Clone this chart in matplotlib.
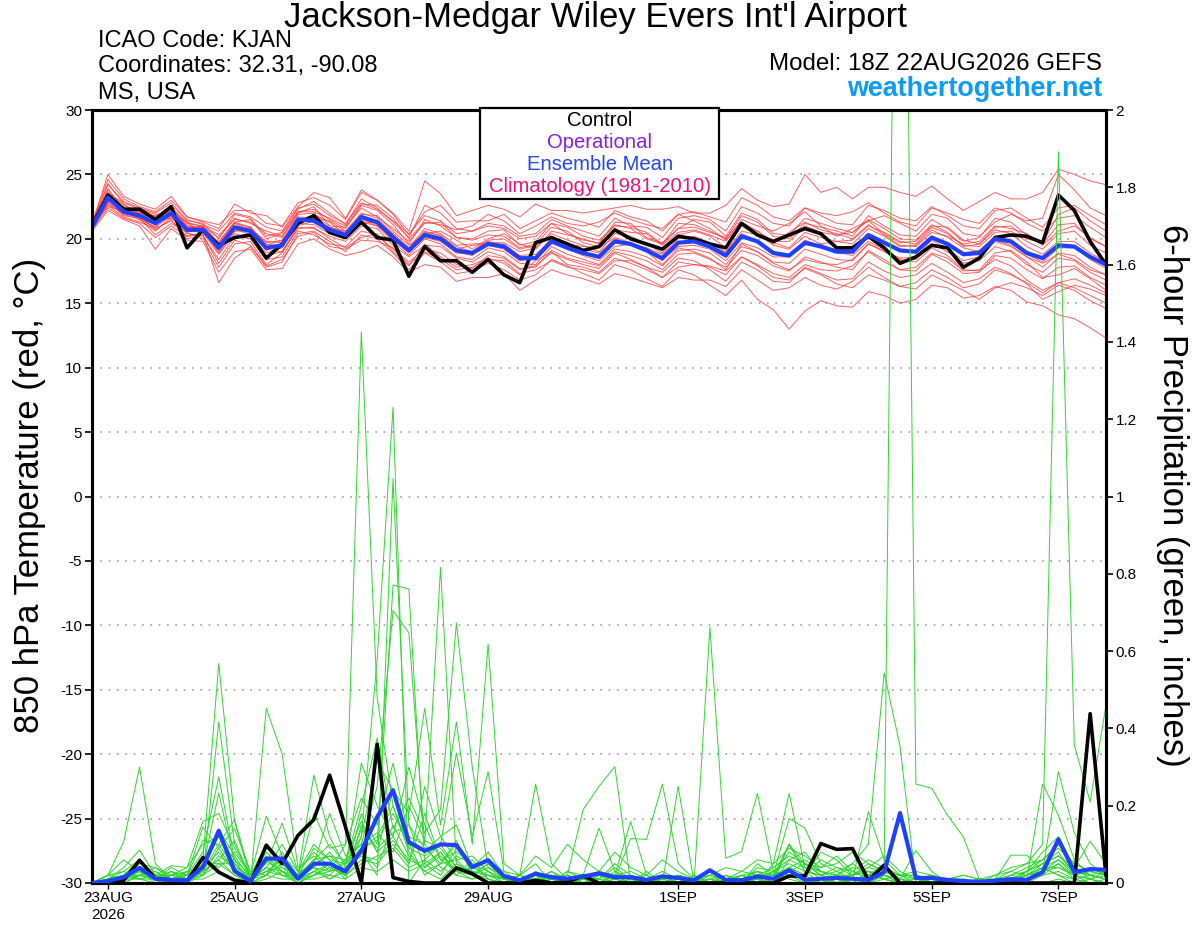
import numpy as np
import pandas as pd
import matplotlib
matplotlib.use('Agg')
import matplotlib.pyplot as plt
from matplotlib.patches import Rectangle

plt.rcParams['font.family'] = ['Liberation Sans', 'DejaVu Sans']
plt.rcParams['axes.unicode_minus'] = False

# ------------------------------------------------------------
# Data (6-hourly steps from 18Z 22AUG2026, 65 steps)
# ------------------------------------------------------------
RUN_START = '2026-08-22 18:00'
N_STEPS = 65

TICK_DATES = ['2026-08-23', '2026-08-25', '2026-08-27', '2026-08-29',
              '2026-09-01', '2026-09-03', '2026-09-05', '2026-09-07']
TICK_LABELS = ['23AUG\n2026', '25AUG', '27AUG', '29AUG',
               '1SEP', '3SEP', '5SEP', '7SEP']
TEMP_TICKS = [-30, -25, -20, -15, -10, -5, 0, 5, 10, 15, 20, 25, 30]
PRECIP_TICKS = [0, 0.2, 0.4, 0.6, 0.8, 1.0, 1.2, 1.4, 1.6, 1.8, 2.0]

# 850 hPa temperature, control and ensemble mean
temp_control = [21.0, 23.4, 22.3, 22.3, 21.5, 22.5, 19.3, 20.7, 19.5, 20.1, 20.3, 18.5, 19.6,
                21.2, 21.8, 20.5, 20.1, 21.3, 20.1, 19.9, 17.1, 19.4, 18.3, 18.3, 17.4, 18.4,
                17.2, 16.6, 19.7, 20.1, 19.6, 19.1, 19.4, 20.7, 20.0, 19.6, 19.2, 20.2, 20.0,
                19.6, 19.3, 21.2, 20.3, 19.8, 20.3, 20.8, 20.4, 19.3, 19.3, 20.2, 19.3, 18.1,
                18.6, 19.5, 19.3, 17.8, 18.5, 20.1, 20.3, 20.2, 19.7, 23.4, 22.2, 19.8, 18.0]
temp_mean = [20.9, 23.2, 22.1, 21.8, 21.2, 22.0, 20.7, 20.7, 19.3, 20.9, 20.6, 19.3, 19.5,
             21.5, 21.4, 20.7, 20.3, 21.7, 21.3, 20.1, 19.1, 20.3, 20.0, 19.1, 18.9, 19.6,
             19.4, 18.5, 18.5, 19.8, 19.3, 18.9, 18.6, 19.8, 19.6, 19.1, 18.5, 19.7, 19.8,
             19.4, 18.7, 20.2, 19.8, 18.9, 18.7, 19.7, 19.4, 19.0, 19.0, 20.3, 19.7, 19.1,
             19.0, 20.1, 19.6, 18.8, 18.9, 20.0, 19.8, 18.9, 18.5, 19.5, 19.4, 18.6, 18.0]

# 850 hPa temperature, ensemble members
t01 = [21.1, 25.0, 23.3, 22.7, 22.3, 23.3, 21.7, 21.3, 20.8, 22.7, 22.0, 21.8, 20.9,
       22.5, 23.6, 23.2, 21.6, 23.8, 23.0, 22.0, 20.6, 24.5, 23.5, 21.8, 22.2, 22.6,
       22.3, 21.7, 22.7, 22.2, 22.2, 22.0, 22.2, 22.4, 22.6, 22.3, 22.3, 22.5, 22.0,
       22.0, 22.6, 23.9, 23.0, 22.5, 22.7, 25.0, 23.6, 24.0, 23.1, 24.0, 24.0, 23.6,
       23.3, 24.1, 23.1, 22.2, 22.9, 23.6, 23.1, 23.1, 23.6, 25.4, 25.0, 24.5, 24.2]
t02 = [20.7, 22.4, 21.6, 21.2, 20.1, 21.0, 20.2, 20.4, 16.6, 18.5, 19.4, 17.8, 18.2,
       20.4, 20.6, 19.8, 19.0, 20.3, 20.0, 18.9, 17.6, 18.9, 18.2, 17.3, 17.5, 18.1,
       17.6, 16.8, 17.2, 18.4, 17.9, 17.3, 16.8, 18.0, 17.6, 16.9, 16.3, 17.6, 17.2,
       16.4, 15.6, 16.8, 15.3, 14.5, 13.0, 14.4, 15.2, 14.8, 14.7, 15.9, 15.6, 15.0,
       15.3, 16.4, 16.2, 15.4, 15.6, 16.3, 16.0, 15.1, 14.8, 14.1, 13.8, 13.1, 12.3]
t03 = [21.0, 23.6, 22.6, 22.0, 21.8, 22.3, 21.2, 21.0, 20.3, 21.5, 21.3, 20.4, 20.1,
       22.1, 22.3, 21.5, 20.8, 22.6, 22.2, 21.1, 19.6, 21.5, 21.0, 20.1, 20.0, 20.6,
       20.7, 19.5, 19.8, 21.2, 20.4, 19.9, 19.7, 21.1, 20.8, 20.0, 19.6, 21.2, 21.1,
       20.6, 20.0, 21.8, 21.3, 20.2, 20.0, 21.2, 20.9, 20.6, 20.2, 21.8, 21.0, 20.3,
       20.2, 21.5, 20.8, 19.8, 20.1, 21.6, 21.3, 20.3, 19.6, 21.1, 21.2, 20.0, 19.4]
t04 = [20.8, 22.8, 21.9, 21.5, 20.6, 21.7, 20.4, 20.2, 18.4, 20.2, 20.0, 18.7, 19.0,
       20.9, 20.8, 20.2, 19.8, 21.0, 20.8, 19.5, 18.6, 19.5, 19.4, 18.5, 18.2, 19.0,
       18.6, 17.7, 17.8, 19.1, 18.5, 18.2, 17.9, 19.0, 18.7, 18.3, 17.6, 18.8, 18.9,
       18.4, 17.8, 19.1, 18.7, 17.9, 17.5, 18.6, 18.2, 17.8, 17.6, 19.1, 18.4, 17.6,
       17.5, 18.8, 18.2, 17.3, 17.4, 18.7, 18.5, 17.6, 16.9, 17.8, 17.9, 17.0, 16.4]
t05 = [21.2, 24.2, 22.9, 22.4, 22.0, 22.8, 21.4, 21.2, 20.0, 21.9, 21.6, 20.2, 20.5,
       22.3, 22.9, 22.0, 21.1, 23.1, 22.4, 21.3, 20.1, 22.6, 22.0, 20.8, 20.6, 21.2,
       21.0, 20.2, 20.4, 21.5, 21.0, 20.6, 20.2, 21.6, 21.0, 20.9, 20.1, 21.6, 21.8,
       21.5, 20.6, 22.5, 22.0, 21.2, 21.0, 22.4, 21.8, 21.2, 21.1, 22.6, 22.2, 21.6,
       21.4, 22.5, 21.8, 21.0, 20.8, 22.2, 22.4, 21.6, 20.9, 22.4, 22.6, 21.8, 21.1]
t06 = [20.6, 22.2, 21.5, 21.0, 19.2, 20.8, 19.9, 19.8, 17.4, 19.0, 19.2, 17.6, 17.7,
       19.6, 20.0, 19.2, 18.7, 19.0, 19.5, 18.6, 17.4, 18.0, 17.8, 16.7, 17.0, 17.0,
       17.3, 16.0, 16.8, 17.6, 17.2, 16.9, 16.5, 17.3, 17.0, 16.6, 16.2, 17.0, 16.8,
       16.8, 16.3, 17.6, 16.8, 16.0, 16.2, 17.0, 16.4, 16.1, 16.7, 17.8, 17.0, 16.3,
       16.1, 17.2, 16.6, 16.0, 15.3, 16.2, 16.6, 16.2, 15.6, 16.4, 16.0, 15.2, 14.6]
t07 = [20.9, 23.0, 22.3, 21.9, 21.6, 21.9, 21.0, 20.9, 19.6, 21.0, 20.8, 19.8, 19.7,
       21.7, 21.6, 21.4, 20.6, 22.0, 21.6, 20.4, 19.3, 20.8, 20.4, 19.5, 19.6, 19.7,
       19.7, 19.0, 19.3, 20.4, 19.9, 19.5, 19.0, 20.4, 20.2, 19.6, 18.9, 20.3, 20.6,
       20.2, 19.3, 21.1, 20.6, 19.7, 19.3, 20.5, 20.1, 19.8, 19.9, 21.0, 20.5, 19.8,
       19.6, 20.9, 20.4, 19.5, 19.4, 20.5, 20.6, 19.8, 19.2, 20.4, 20.6, 19.5, 18.9]
t08 = [21.1, 23.9, 22.2, 22.1, 21.4, 22.5, 20.9, 20.8, 19.0, 20.6, 20.9, 19.5, 19.9,
       21.9, 22.0, 20.9, 20.5, 21.9, 21.8, 20.6, 19.5, 20.4, 20.6, 19.9, 19.2, 20.0,
       20.4, 19.6, 19.2, 20.6, 20.3, 20.0, 19.6, 21.3, 21.2, 20.1, 19.7, 20.8, 21.5,
       21.3, 20.2, 22.0, 21.5, 20.4, 20.3, 21.6, 21.2, 20.8, 20.5, 21.4, 21.8, 21.2,
       20.6, 21.9, 21.6, 20.4, 20.2, 21.3, 21.9, 21.4, 21.6, 25.0, 23.8, 22.4, 21.8]
t09 = [21.0, 23.4, 22.0, 21.6, 20.9, 21.8, 20.6, 20.5, 19.2, 20.8, 20.3, 18.9, 19.3,
       21.2, 21.1, 20.4, 20.0, 21.3, 21.0, 19.8, 18.7, 20.0, 19.6, 18.6, 18.4, 19.3,
       19.0, 18.1, 18.0, 19.4, 18.8, 18.4, 18.0, 19.2, 19.0, 18.6, 17.9, 19.1, 19.2,
       18.9, 18.0, 19.4, 19.0, 18.2, 18.1, 19.2, 18.8, 18.4, 18.3, 19.6, 19.0, 18.3,
       18.4, 19.6, 19.0, 18.1, 18.3, 19.4, 19.0, 18.0, 17.4, 18.5, 18.3, 17.4, 16.8]
t10 = [21.3, 24.6, 23.1, 22.5, 22.1, 23.0, 21.7, 21.4, 21.1, 22.2, 22.2, 21.2, 21.0,
       22.8, 23.2, 22.6, 21.5, 23.6, 23.0, 21.9, 20.3, 22.1, 22.6, 21.3, 21.4, 21.4,
       21.9, 20.8, 21.4, 22.0, 21.6, 21.3, 20.9, 22.2, 21.7, 21.4, 20.6, 21.9, 21.4,
       20.8, 19.9, 21.0, 20.4, 19.5, 19.2, 20.2, 19.6, 19.0, 18.7, 19.8, 19.2, 18.4,
       18.2, 19.3, 18.7, 17.6, 17.5, 18.4, 17.9, 16.8, 16.0, 16.6, 16.2, 15.6, 15.0]
t11 = [20.8, 22.6, 21.7, 21.3, 20.8, 21.4, 20.2, 20.5, 18.8, 20.4, 20.0, 18.4, 18.6,
       20.6, 20.3, 19.6, 19.4, 20.6, 20.3, 19.2, 18.2, 19.2, 18.9, 18.0, 17.7, 18.7,
       18.5, 17.6, 17.9, 18.9, 18.4, 18.0, 17.7, 18.9, 18.4, 17.8, 17.4, 18.5, 18.3,
       17.6, 16.7, 18.2, 17.6, 16.7, 16.6, 17.8, 17.3, 16.8, 16.9, 18.2, 17.5, 17.0,
       17.2, 18.1, 17.4, 16.6, 16.9, 17.8, 17.3, 16.5, 15.3, 15.9, 16.4, 16.1, 15.6]
t12 = [21.0, 23.5, 22.8, 22.3, 21.9, 22.0, 21.3, 20.9, 20.1, 21.6, 21.2, 20.6, 20.2,
       22.0, 22.5, 21.0, 20.9, 22.4, 21.7, 20.8, 19.8, 21.2, 21.3, 20.1, 19.9, 20.3,
       20.2, 19.3, 19.6, 20.9, 20.6, 19.7, 19.4, 20.7, 20.5, 20.4, 19.5, 20.5, 20.7,
       20.3, 19.8, 21.5, 21.0, 20.6, 21.2, 22.1, 21.0, 20.2, 20.8, 21.4, 20.4, 19.7,
       19.8, 21.0, 20.9, 19.9, 19.6, 20.9, 21.0, 20.0, 19.7, 21.9, 22.4, 21.4, 20.6]
t13 = [20.7, 22.9, 21.8, 21.6, 20.3, 21.2, 20.5, 20.0, 17.8, 19.6, 19.8, 18.0, 18.9,
       20.8, 20.9, 20.0, 19.3, 20.1, 20.4, 19.0, 17.9, 19.6, 18.6, 17.8, 18.0, 18.5,
       18.1, 17.2, 18.3, 19.0, 18.0, 17.8, 17.4, 18.5, 18.1, 17.6, 17.0, 18.2, 18.0,
       17.8, 17.2, 18.6, 18.0, 17.3, 17.0, 18.0, 17.6, 17.5, 17.9, 19.0, 18.2, 17.6,
       17.8, 18.9, 18.5, 17.5, 17.6, 18.9, 19.1, 18.2, 17.0, 17.2, 17.7, 16.9, 16.0]
t14 = [21.1, 23.8, 22.4, 22.2, 21.7, 22.6, 21.5, 21.1, 20.6, 22.0, 21.7, 20.9, 20.6,
       22.4, 22.7, 21.8, 21.2, 22.8, 22.3, 21.4, 20.4, 21.8, 21.4, 20.4, 20.6, 21.0,
       20.8, 20.0, 20.2, 21.2, 20.9, 20.2, 19.9, 21.0, 20.9, 20.5, 19.6, 20.8, 20.9,
       20.5, 20.1, 21.3, 20.6, 19.8, 19.8, 21.0, 20.5, 20.3, 20.5, 21.5, 20.8, 20.0,
       19.9, 21.1, 20.5, 19.4, 19.6, 20.7, 20.4, 19.4, 18.8, 19.8, 19.8, 18.9, 18.2]
t15 = [20.9, 23.1, 22.0, 21.7, 21.1, 21.8, 20.6, 20.7, 18.9, 20.6, 20.6, 19.1, 19.6,
       21.6, 21.3, 20.6, 20.1, 21.6, 21.1, 20.0, 18.9, 20.1, 19.8, 18.9, 18.8, 19.5,
       19.2, 18.3, 18.5, 19.8, 19.4, 18.9, 18.5, 19.7, 19.6, 19.0, 18.3, 19.6, 19.8,
       19.6, 18.9, 20.4, 19.8, 18.8, 18.6, 19.9, 19.4, 19.2, 19.1, 20.4, 19.7, 19.1,
       18.9, 20.1, 19.6, 18.9, 19.1, 20.2, 19.9, 18.8, 18.2, 19.3, 19.3, 18.4, 17.7]
t16 = [21.0, 24.3, 22.7, 21.9, 21.3, 22.2, 21.1, 20.6, 19.6, 21.2, 20.7, 19.7, 19.9,
       21.3, 21.9, 21.3, 20.3, 21.8, 21.4, 20.4, 19.2, 20.6, 20.2, 19.4, 19.0, 19.9,
       20.0, 19.2, 19.5, 20.2, 19.6, 19.4, 19.3, 20.1, 19.7, 19.3, 18.8, 20.0, 20.2,
       19.7, 19.0, 20.6, 20.3, 19.6, 20.5, 21.3, 20.7, 20.4, 20.0, 21.1, 20.3, 19.5,
       19.4, 20.5, 20.2, 19.6, 19.8, 21.0, 20.8, 20.4, 19.5, 20.6, 21.0, 20.1, 19.4]
t17 = [21.2, 22.9, 22.5, 21.5, 20.9, 22.4, 21.3, 20.4, 19.8, 21.3, 21.5, 20.0, 20.4,
       22.1, 22.1, 21.6, 21.0, 22.7, 22.6, 21.6, 20.0, 21.3, 21.1, 20.7, 21.0, 21.9,
       21.4, 20.4, 21.0, 21.7, 21.2, 21.0, 21.3, 22.0, 21.5, 21.1, 20.8, 21.9, 22.1,
       21.7, 21.3, 23.2, 22.6, 21.7, 21.4, 22.4, 22.0, 21.8, 22.1, 22.8, 22.0, 21.3,
       21.0, 22.4, 22.0, 21.5, 21.2, 22.4, 22.0, 21.2, 20.6, 21.6, 21.8, 20.9, 20.1]
t18 = [20.8, 22.7, 22.0, 21.8, 20.7, 21.5, 20.0, 20.3, 18.1, 19.9, 19.5, 17.9, 18.4,
       20.2, 20.5, 19.4, 19.2, 19.9, 19.8, 19.3, 18.0, 19.0, 18.4, 17.6, 17.8, 18.4,
       18.3, 17.3, 17.6, 18.3, 17.8, 17.6, 17.3, 18.3, 18.3, 17.8, 17.0, 17.8, 18.0,
       17.9, 17.5, 18.6, 17.9, 17.0, 16.8, 17.7, 17.2, 16.5, 16.2, 17.2, 16.8, 16.3,
       16.6, 17.6, 17.0, 16.2, 16.5, 17.6, 17.2, 16.6, 15.8, 16.6, 16.9, 16.4, 15.8]
t19 = [20.9, 23.3, 22.3, 22.0, 21.5, 21.6, 20.8, 21.0, 19.7, 21.3, 20.9, 19.6, 19.4,
       21.4, 21.6, 20.7, 20.2, 21.2, 21.3, 20.3, 19.0, 20.5, 20.3, 19.2, 19.5, 19.6,
       19.6, 18.7, 18.8, 19.9, 19.2, 18.7, 18.3, 19.4, 19.6, 19.3, 18.4, 19.4, 19.5,
       19.2, 18.3, 19.7, 19.3, 18.6, 18.6, 19.5, 19.6, 19.8, 19.6, 20.8, 20.2, 19.4,
       19.5, 20.7, 20.1, 19.3, 19.0, 19.9, 19.5, 18.6, 18.1, 18.8, 18.4, 17.6, 17.2]
t20 = [21.1, 22.5, 22.2, 21.9, 21.1, 22.1, 20.9, 20.9, 19.4, 21.2, 20.9, 19.2, 19.0,
       21.0, 21.4, 20.9, 20.6, 21.5, 21.0, 20.2, 19.3, 20.2, 20.0, 19.0, 18.7, 19.8,
       19.5, 18.5, 18.6, 20.1, 19.7, 19.2, 18.9, 20.0, 19.5, 19.0, 18.0, 19.3, 19.0,
       18.5, 17.6, 19.6, 19.0, 18.1, 17.6, 18.4, 18.1, 18.0, 18.4, 19.6, 19.1, 18.5,
       18.6, 19.9, 19.2, 18.3, 18.6, 19.8, 19.4, 18.6, 17.8, 18.9, 18.7, 17.8, 17.2]

# 6-hour precipitation (inches), control and ensemble mean
precip_control = [0, 0, 0.007, 0.059, 0.011, 0.008, 0.005, 0.066, 0.028, 0.007, 0, 0.098, 0.050,
                  0.123, 0.164, 0.279, 0.145, 0, 0.359, 0.014, 0.004, 0, 0, 0.039, 0.024, 0,
                  0, 0, 0.007, 0, 0.003, 0.018, 0, 0, 0, 0, 0, 0, 0,
                  0, 0, 0, 0, 0, 0.018, 0.018, 0.102, 0.087, 0.089, 0.007, 0.046, 0,
                  0, 0, 0, 0, 0, 0, 0, 0, 0, 0, 0, 0.438, 0.02]
precip_mean = [0, 0.005, 0.015, 0.039, 0.011, 0.008, 0.007, 0.041, 0.135, 0.031, 0.005, 0.063, 0.063,
               0.011, 0.050, 0.050, 0.030, 0.083, 0.171, 0.240, 0.106, 0.083, 0.100, 0.098, 0.041, 0.059,
               0.018, 0.007, 0.024, 0.015, 0.011, 0.017, 0.025, 0.015, 0.015, 0.008, 0.017, 0.013, 0.007,
               0.033, 0.008, 0.007, 0.017, 0.011, 0.033, 0.008, 0.011, 0.013, 0.011, 0.008, 0.028, 0.181,
               0.013, 0.013, 0.008, 0.005, 0.003, 0.006, 0.010, 0.008, 0.028, 0.113, 0.028, 0.036, 0.034]

# 6-hour precipitation (inches), ensemble members
p01 = [0, 0.02, 0.107, 0.30, 0.05, 0.01, 0, 0.03, 0.10, 0.04, 0, 0.06, 0.03,
       0, 0.02, 0.05, 0.01, 0.15, 0.08, 0.24, 0.10, 0.02, 0.05, 0.10, 0.03, 0,
       0, 0, 0.01, 0.03, 0, 0, 0, 0.01, 0, 0, 0.02, 0, 0,
       0.662, 0.064, 0.081, 0.232, 0.03, 0.01, 0, 0, 0.02, 0, 0, 0.01, 0,
       0, 0, 0, 0, 0, 0, 0.01, 0, 0.02, 0.05, 0.01, 0, 0]
p02 = [0, 0.01, 0.04, 0.085, 0.02, 0, 0.01, 0.06, 0.568, 0.16, 0.01, 0.04, 0.02,
       0, 0.03, 0.01, 0.04, 0.31, 0.20, 0.12, 0.05, 0.18, 0.06, 0.03, 0.01, 0.02,
       0, 0.01, 0, 0, 0.02, 0, 0, 0.03, 0.01, 0, 0, 0, 0.02,
       0, 0, 0.01, 0.02, 0, 0.04, 0.02, 0, 0, 0.03, 0.02, 0.05, 4.0,
       0.256, 0.245, 0.175, 0.119, 0.01, 0, 0, 0, 0, 0.01, 0, 0, 0]
p03 = [0, 0, 0.02, 0.059, 0.01, 0.03, 0, 0.02, 0.417, 0.10, 0.02, 0.10, 0.05,
       0.01, 0.04, 0.03, 0.10, 1.426, 0.48, 0.20, 0.08, 0.03, 0.01, 0.05, 0.02, 0,
       0, 0, 0.02, 0, 0, 0.01, 0, 0, 0, 0.01, 0, 0, 0,
       0.01, 0, 0, 0.05, 0.02, 0.10, 0.03, 0, 0.01, 0, 0.03, 0.01, 0,
       0, 0, 0.01, 0, 0, 0, 0, 0.03, 0.06, 0.10, 0.04, 0.01, 0]
p04 = [0, 0.01, 0, 0.02, 0.04, 0.01, 0.02, 0.08, 0.275, 0.06, 0, 0.452, 0.334,
       0.04, 0.07, 0.03, 0.05, 0.12, 0.58, 1.231, 0, 0.06, 0.10, 0.04, 0.02, 0.05,
       0.01, 0, 0, 0.02, 0, 0, 0.01, 0.04, 0.01, 0, 0, 0.02, 0,
       0, 0.01, 0.02, 0, 0, 0.03, 0.05, 0.02, 0, 0, 0, 0.02, 0.01,
       0, 0, 0, 0, 0, 0, 0, 0.01, 0.04, 0.02, 0, 0.01, 0.02]
p05 = [0, 0, 0.01, 0.03, 0.02, 0, 0.03, 0.04, 0.233, 0.05, 0.01, 0.03, 0.06,
       0.02, 0.279, 0.12, 0.04, 0.08, 0.02, 1.047, 0.15, 0.04, 0.08, 0.02, 0.01, 0.03,
       0, 0.02, 0.05, 0, 0.01, 0, 0, 0.02, 0, 0.03, 0, 0, 0.01,
       0, 0, 0.02, 0.03, 0, 0.06, 0.04, 0.01, 0.02, 0.05, 0.10, 0.544, 0.354,
       0, 0.01, 0, 0, 0, 0, 0.02, 0.03, 0.05, 0.08, 0.02, 0, 0.01]
p06 = [0, 0.02, 0.03, 0.01, 0, 0.02, 0.04, 0.159, 0.18, 0.09, 0.02, 0.05, 0.155,
       0.03, 0.10, 0.06, 0.02, 0.18, 0.10, 0.771, 0.761, 0.05, 0.02, 0.09, 0.04, 0.02,
       0.01, 0, 0.03, 0.01, 0.02, 0, 0, 0, 0.02, 0, 0.01, 0, 0,
       0.02, 0, 0.01, 0, 0.05, 0.232, 0.04, 0.03, 0.02, 0.04, 0.03, 0.01, 0,
       0, 0, 0, 0, 0.01, 0, 0, 0.02, 0.03, 0.288, 0.13, 0.05, 0.02]
p07 = [0, 0, 0.01, 0.04, 0.01, 0.04, 0.02, 0.145, 0.09, 0.14, 0.03, 0.02, 0.08,
       0.01, 0.05, 0.18, 0.07, 0.10, 0.25, 0.705, 0.647, 0.10, 0.04, 0.02, 0.06, 0.01,
       0, 0.02, 0, 0, 0.03, 0.01, 0.02, 0, 0, 0.01, 0, 0.01, 0,
       0, 0.02, 0, 0.01, 0.02, 0.167, 0.142, 0.05, 0.03, 0.01, 0.184, 0.06, 0.02,
       0.01, 0, 0, 0, 0, 0.01, 0.02, 0.01, 0.256, 0.175, 0.06, 0.02, 0.03]
p08 = [0, 0.01, 0.02, 0.02, 0.03, 0.01, 0, 0.05, 0.14, 0.07, 0.01, 0.08, 0.04,
       0.02, 0.18, 0.09, 0.10, 0.22, 0.15, 0.31, 0.12, 0.10, 0.817, 0.05, 0.03, 0.02,
       0.01, 0, 0.01, 0, 0, 0.02, 0.142, 0.03, 0.01, 0, 0, 0, 0.02,
       0, 0.01, 0.03, 0.02, 0.01, 0.10, 0.03, 0.02, 0.01, 0, 0.02, 0.04, 0.01,
       0.084, 0.03, 0, 0, 0, 0, 0.01, 0.03, 0.08, 0.12, 0.04, 0.108, 0.05]
p09 = [0, 0.02, 0.06, 0.03, 0.01, 0, 0.02, 0.11, 0.10, 0.164, 0.02, 0.173, 0.07,
       0.02, 0.06, 0.10, 0.05, 0.20, 0.375, 0.14, 0.22, 0.13, 0.19, 0.673, 0.30, 0.04,
       0.02, 0, 0, 0.01, 0.02, 0.19, 0.25, 0.301, 0, 0, 0.01, 0.02, 0,
       0.01, 0, 0, 0, 0.03, 0.02, 0, 0.01, 0.02, 0.01, 0, 0.02, 0,
       0, 0, 0, 0.01, 0, 0, 0, 0.02, 0.04, 0.02, 0.01, 0, 0]
p10 = [0, 0, 0.01, 0.05, 0.04, 0.02, 0.01, 0.03, 0.06, 0.11, 0.01, 0.04, 0.10,
       0.03, 0.08, 0.04, 0.02, 0.12, 0.315, 0.24, 0.18, 0.452, 0.15, 0.417, 0.10, 0.618,
       0.05, 0.02, 0.256, 0.05, 0.01, 0, 0, 0.01, 0.115, 0.113, 0.256, 0.05, 0.01,
       0, 0.02, 0.01, 0.03, 0.02, 0.08, 0.05, 0.02, 0.03, 0.05, 0.02, 0.01, 0,
       0, 0.01, 0, 0, 0, 0.01, 0.072, 0.072, 0.03, 0.06, 0.02, 0.01, 0]
p11 = [0, 0.01, 0.03, 0.06, 0.02, 0.045, 0.04, 0.10, 0.12, 0.05, 0, 0.02, 0.05,
       0.01, 0.05, 0.07, 0.03, 0.09, 0.12, 0.20, 0.09, 0.07, 0.10, 0.336, 0.12, 0.288,
       0.03, 0, 0.02, 0, 0, 0.01, 0.03, 0.02, 0.159, 0.02, 0, 0.25, 0,
       0, 0, 0.02, 0.01, 0, 0.02, 0.01, 0, 0.01, 0.02, 0.03, 0.02, 0.01,
       0, 0, 0, 0.01, 0, 0.02, 0.03, 0.05, 0.10, 1.892, 0.357, 0.21, 0.46]
p12 = [0, 0, 0, 0.02, 0.01, 0.01, 0.02, 0.04, 0.08, 0.03, 0.01, 0.03, 0.02,
       0.01, 0.03, 0.02, 0.06, 0.16, 0.08, 0.12, 0.30, 0.15, 0.06, 0.08, 0.05, 0.03,
       0.01, 0.02, 0.01, 0.03, 0.01, 0, 0.02, 0.01, 0, 0.01, 0, 0, 0.01,
       0.02, 0.01, 0, 0.02, 0.01, 0.03, 0.02, 0.08, 0.06, 0.02, 0.04, 0.03, 0.02,
       0.03, 0.02, 0.01, 0.01, 0, 0, 0.02, 0.04, 0.06, 0.10, 0.05, 0.03, 0.02]
p13 = [0, 0.01, 0.02, 0.01, 0.02, 0.02, 0.01, 0.02, 0.05, 0.02, 0, 0.01, 0.03,
       0, 0.02, 0.04, 0.02, 0.06, 0.05, 0.10, 0.05, 0.25, 0.12, 0.15, 0.04, 0.08,
       0.02, 0.01, 0, 0.01, 0, 0.02, 0, 0, 0.01, 0.02, 0, 0.01, 0,
       0.01, 0.02, 0, 0.01, 0, 0.10, 0.05, 0.04, 0.07, 0.03, 0.01, 0.02, 0,
       0.01, 0, 0, 0, 0.01, 0.01, 0.03, 0.02, 0.05, 0.07, 0.03, 0.02, 0.01]
p14 = [0, 0, 0.01, 0.03, 0, 0.01, 0.01, 0.01, 0.03, 0.01, 0.01, 0.02, 0.01,
       0.01, 0.01, 0.02, 0.01, 0.04, 0.03, 0.06, 0.03, 0.05, 0.08, 0.03, 0.02, 0.01,
       0, 0, 0.01, 0, 0.01, 0, 0.01, 0, 0, 0, 0.01, 0, 0,
       0, 0, 0.01, 0, 0.01, 0.02, 0.01, 0.01, 0, 0.01, 0, 0, 0,
       0, 0, 0, 0, 0, 0, 0, 0.01, 0.02, 0.03, 0.01, 0.02, 0.01]
p15 = [0, 0.02, 0.01, 0.02, 0.03, 0, 0.01, 0.06, 0.04, 0.08, 0.02, 0.06, 0.02,
       0.02, 0.04, 0.01, 0.03, 0.08, 0.04, 0.15, 0.07, 0.03, 0.05, 0.06, 0.02, 0.04,
       0.01, 0.01, 0.02, 0, 0.03, 0.02, 0.01, 0.05, 0.02, 0.01, 0.03, 0.01, 0,
       0.01, 0, 0, 0.04, 0.03, 0.06, 0.08, 0.03, 0.02, 0.01, 0.02, 0.01, 0.02,
       0.02, 0.01, 0.01, 0.02, 0.01, 0, 0.01, 0.02, 0.04, 0.04, 0.02, 0.01, 0.03]
p16 = [0, 0, 0.02, 0.01, 0.01, 0.02, 0.03, 0.02, 0.07, 0.04, 0.02, 0.07, 0.03,
       0.01, 0.03, 0.05, 0.02, 0.05, 0.07, 0.09, 0.04, 0.06, 0.03, 0.07, 0.05, 0.01,
       0, 0.01, 0, 0.02, 0, 0.01, 0.03, 0.02, 0.01, 0.02, 0, 0.02, 0.01,
       0, 0.01, 0, 0.02, 0.02, 0.04, 0.02, 0.06, 0.04, 0.02, 0.03, 0.02, 0.01,
       0.01, 0.02, 0, 0, 0, 0.01, 0.01, 0.01, 0.03, 0.05, 0.02, 0.04, 0.02]
p17 = [0, 0.01, 0, 0.02, 0.01, 0.03, 0.02, 0.03, 0.06, 0.02, 0.01, 0.03, 0.04,
       0.01, 0.02, 0.03, 0.04, 0.07, 0.06, 0.11, 0.06, 0.04, 0.07, 0.03, 0.04, 0.06,
       0.03, 0.02, 0.07, 0.04, 0.10, 0.06, 0.03, 0.08, 0.04, 0.02, 0.06, 0.03, 0.01,
       0.02, 0.04, 0.03, 0.06, 0.05, 0.09, 0.07, 0.04, 0.05, 0.08, 0.05, 0.03, 0.02,
       0.02, 0.01, 0.01, 0.02, 0.01, 0.02, 0.04, 0.05, 0.06, 0.09, 0.05, 0.03, 0.04]
p18 = [0, 0, 0.01, 0.01, 0.02, 0.01, 0.02, 0.04, 0.12, 0.06, 0.02, 0.09, 0.06,
       0.02, 0.09, 0.06, 0.05, 0.09, 0.11, 0.18, 0.10, 0.08, 0.12, 0.06, 0.07, 0.03,
       0.01, 0, 0.01, 0.02, 0.01, 0, 0.02, 0.01, 0.02, 0, 0, 0.01, 0,
       0, 0, 0.02, 0.01, 0.03, 0.05, 0.03, 0.02, 0.04, 0.03, 0.06, 0.04, 0.02,
       0, 0, 0, 0, 0.01, 0, 0, 0.02, 0.04, 0.06, 0.03, 0.02, 0.01]
p19 = [0, 0.01, 0.01, 0.03, 0.02, 0.01, 0.03, 0.02, 0.09, 0.03, 0, 0.02, 0.07,
       0.03, 0.04, 0.08, 0.03, 0.14, 0.09, 0.13, 0.15, 0.09, 0.05, 0.11, 0.02, 0.05,
       0.02, 0.01, 0, 0.01, 0.02, 0.01, 0, 0.02, 0.03, 0.01, 0.02, 0, 0.01,
       0.01, 0, 0.01, 0.03, 0.01, 0.04, 0.06, 0.03, 0.01, 0.02, 0.04, 0.07, 0.03,
       0.01, 0.02, 0.01, 0, 0, 0, 0.01, 0.02, 0.03, 0.04, 0.02, 0.03, 0.02]
p20 = [0, 0, 0.02, 0.02, 0.01, 0.03, 0.01, 0.05, 0.05, 0.05, 0.01, 0.04, 0.03,
       0.02, 0.06, 0.07, 0.06, 0.10, 0.13, 0.08, 0.20, 0.11, 0.09, 0.04, 0.03, 0.02,
       0.01, 0.01, 0, 0.02, 0, 0.02, 0.01, 0, 0.01, 0.01, 0, 0.02, 0.01,
       0, 0.01, 0, 0.02, 0.04, 0.07, 0.05, 0.03, 0.02, 0.02, 0.05, 0.03, 0.01,
       0, 0.01, 0, 0, 0, 0.01, 0.01, 0.03, 0.05, 0.07, 0.04, 0.02, 0.01]

temp_members = [t01, t02, t03, t04, t05, t06, t07, t08, t09, t10,
                t11, t12, t13, t14, t15, t16, t17, t18, t19, t20]
precip_members = [p01, p02, p03, p04, p05, p06, p07, p08, p09, p10,
                  p11, p12, p13, p14, p15, p16, p17, p18, p19, p20]

# ------------------------------------------------------------
# Style
# ------------------------------------------------------------
RED = '#ff3a3a'
GREEN = '#2ed62e'
BLUE = '#2040ff'
LEGEND_ITEMS = [('Control', 'black'), ('Operational', '#8a1fdc'),
                ('Ensemble Mean', '#2244ff'), ('Climatology (1981-2010)', '#ec1278')]

W, H = 1200, 927
times = pd.date_range(RUN_START, periods=N_STEPS, freq='6h')

fig = plt.figure(figsize=(W / 100, H / 100), dpi=100)
ax = fig.add_axes([92 / W, 1 - 883 / H, (1106 - 92) / W, (883 - 110) / H])
ax2 = ax.twinx()

# temperature
for m in temp_members:
    ax.plot(times, m, color=RED, lw=0.7, alpha=0.8, zorder=2)
ax.plot(times, temp_control, color='black', lw=2.6, zorder=4)
ax.plot(times, temp_mean, color=BLUE, lw=3.0, zorder=5)

# precipitation
for m in precip_members:
    ax2.plot(times, m, color=GREEN, lw=0.7, zorder=2)
ax2.plot(times, precip_control, color='black', lw=2.6, zorder=4)
ax2.plot(times, precip_mean, color=BLUE, lw=3.0, zorder=5)

ax.set_xlim(times[0], times[-1])
ax.set_ylim(-30, 30)
ax2.set_ylim(0, 2)

ax.set_yticks(TEMP_TICKS)
ax.set_yticklabels([str(v) for v in TEMP_TICKS])
ax2.set_yticks(PRECIP_TICKS)
ax2.set_yticklabels(['%g' % v for v in PRECIP_TICKS])
ax.set_xticks(pd.to_datetime(TICK_DATES))
ax.set_xticklabels(TICK_LABELS)

ax.yaxis.grid(True, linestyle=(0, (1, 4)), color='#a0a0a0', lw=1.2)
ax.set_axisbelow(True)

for a in (ax, ax2):
    for s in a.spines.values():
        s.set_linewidth(2.2)
ax.tick_params(axis='y', direction='out', length=5, width=1.2, labelsize=11, pad=2)
ax2.tick_params(axis='y', direction='out', length=5, width=1.2, labelsize=11, pad=2)
ax.tick_params(axis='x', direction='out', length=4, width=1.0, labelsize=11, pad=2)

# axis titles
fig.text(30 / W, 1 - 495 / H, '850 hPa Temperature (red, °C)', rotation=90,
         ha='center', va='center', fontsize=25)
fig.text(1172 / W, 1 - 495 / H, '6-hour Precipitation (green, inches)', rotation=-90,
         ha='center', va='center', fontsize=25)

# header
fig.text(595 / W, 1 - 18 / H, "Jackson-Medgar Wiley Evers Int'l Airport",
         ha='center', va='center', fontsize=25)
fig.text(98 / W, 1 - 41 / H, 'ICAO Code: KJAN', ha='left', va='center', fontsize=17)
fig.text(98 / W, 1 - 66 / H, 'Coordinates: 32.31, -90.08', ha='left', va='center', fontsize=17)
fig.text(98 / W, 1 - 93 / H, 'MS, USA', ha='left', va='center', fontsize=17)
fig.text(1102 / W, 1 - 64 / H, 'Model: 18Z 22AUG2026 GEFS', ha='right', va='center', fontsize=17.4)
fig.text(1102 / W, 1 - 89 / H, 'weathertogether.net', ha='right', va='center',
         fontsize=19.4, fontweight='bold', color='#0b9cf6')

# legend box
box = Rectangle((480 / W, 1 - 199 / H), 239 / W, 91 / H, transform=fig.transFigure,
                facecolor='white', edgecolor='black', lw=1.6, zorder=10)
fig.add_artist(box)
for k, (label, col) in enumerate(LEGEND_ITEMS):
    fig.text(600 / W, 1 - (121 + 21.8 * k) / H, label, color=col, ha='center', va='center',
             fontsize=14.6, zorder=11)

fig.savefig('out.png', dpi=100)
